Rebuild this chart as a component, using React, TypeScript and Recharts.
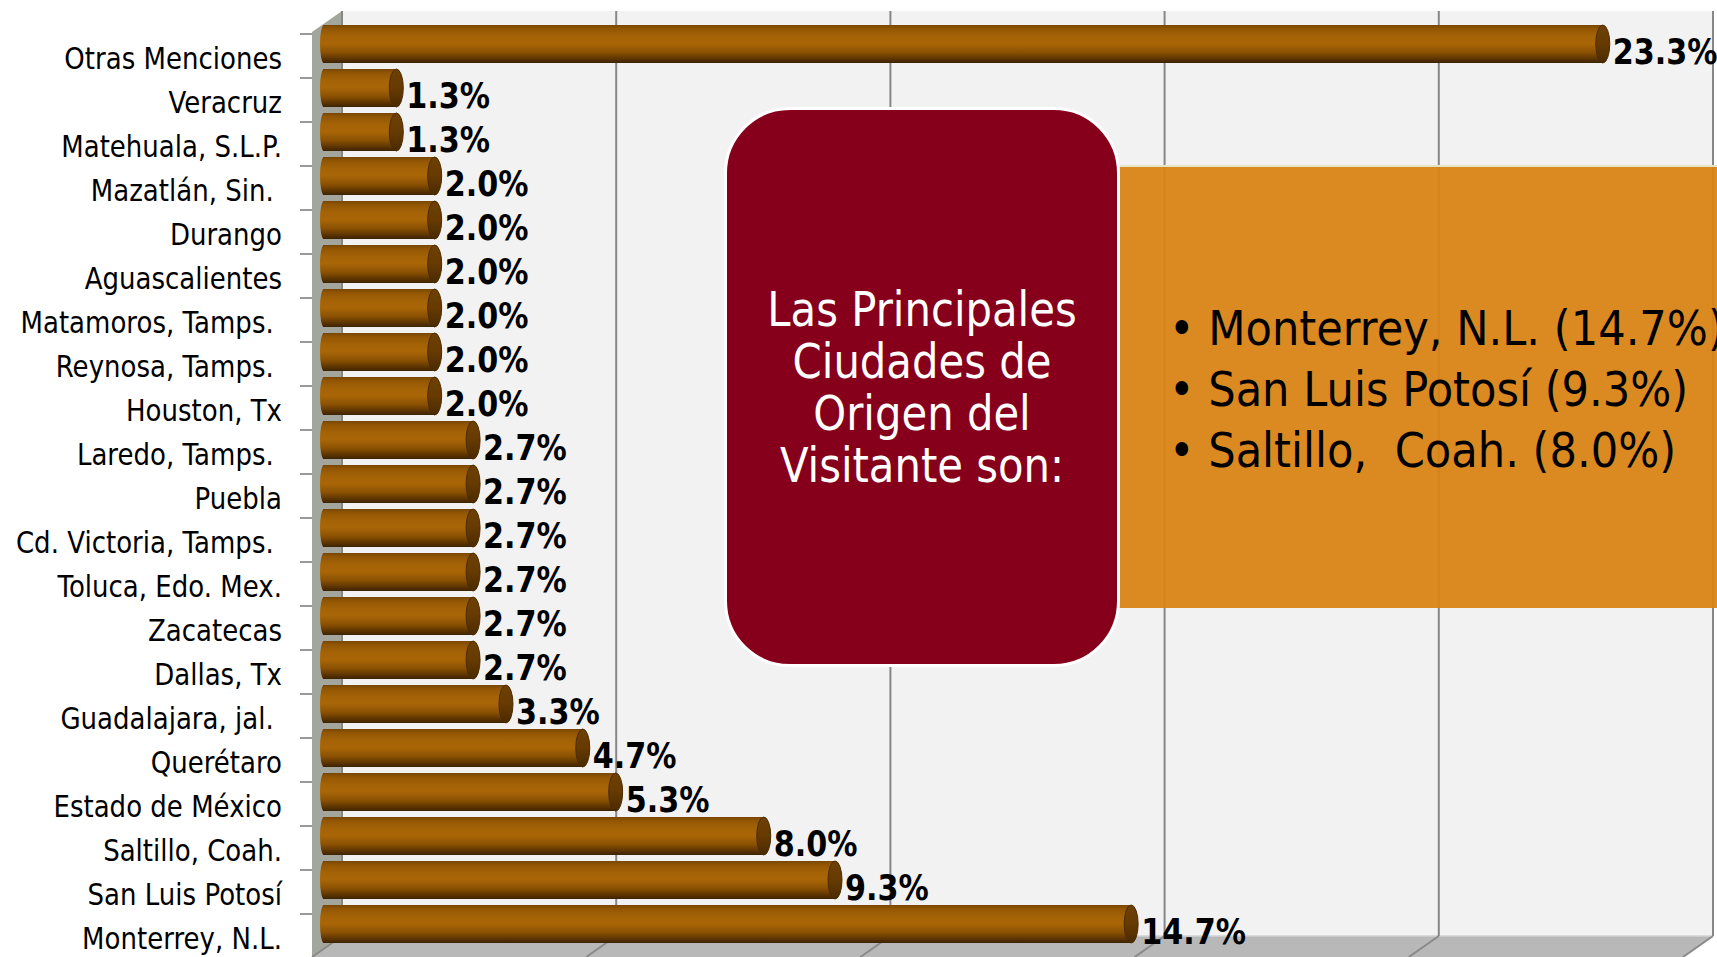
import React from "react";
import { BarChart, Bar, XAxis, YAxis, CartesianGrid, LabelList } from "recharts";

const cities = [
  "Otras Menciones",
  "Veracruz",
  "Matehuala, S.L.P.",
  "Mazatlán, Sin. ",
  "Durango",
  "Aguascalientes",
  "Matamoros, Tamps. ",
  "Reynosa, Tamps. ",
  "Houston, Tx",
  "Laredo, Tamps. ",
  "Puebla",
  "Cd. Victoria, Tamps. ",
  "Toluca, Edo. Mex.",
  "Zacatecas",
  "Dallas, Tx",
  "Guadalajara, jal. ",
  "Querétaro",
  "Estado de México",
  "Saltillo, Coah.",
  "San Luis Potosí",
  "Monterrey, N.L.",
];

const shares = [23.3, 1.3, 1.3, 2.0, 2.0, 2.0, 2.0, 2.0, 2.0, 2.7, 2.7, 2.7, 2.7, 2.7, 2.7, 3.3, 4.7, 5.3, 8.0, 9.3, 14.7];

const xTicks = [0, 5, 10, 15, 20, 25];
const xMax = 25;

const boxTitle = ["Las Principales", "Ciudades de", "Origen del", "Visitante son:"];
const boxItems = ["•\u00a0Monterrey, N.L. (14.7%)", "•\u00a0San Luis Potosí (9.3%)", "•\u00a0Saltillo,  Coah. (8.0%)"];

const data = cities.map((city, i) => ({ city, value: shares[i] }));

const FONT = "'DejaVu Sans', Verdana, sans-serif";

const DEPTH_X = 30;
const BACK_SHIFT = 10;

const gridCoords = (args: any) => {
  const { xAxis, offset, width } = args || {};
  if (xAxis && typeof xAxis.scale === "function") {
    return xTicks.map((t) => xAxis.scale(t));
  }
  const left = offset?.left ?? 0;
  const w = (width ?? 0) - left - (offset?.right ?? 0);
  return xTicks.map((t) => left + (t / xMax) * w);
};

const WallShape = (props: any) => {
  const { y1, y2, index, x, width } = props;
  if (index !== 0) return <g key={`w-${index}`} />;
  const backLeft = x + BACK_SHIFT;
  const backRight = x + width + BACK_SHIFT;
  const wallTop = y1 - 11;
  const wallBottom = y2 - 10;
  const floorFront = y2 + 11;
  return (
    <g key={`w-${index}`}>
      <rect x={backLeft} y={wallTop} width={backRight - backLeft} height={wallBottom - wallTop} fill="#f2f2f2" />
      <polygon
        points={`${backLeft},${wallTop} ${backLeft},${wallBottom} ${backLeft - DEPTH_X},${floorFront} ${backLeft - DEPTH_X},${wallTop + 21}`}
        fill="#a2a69c"
      />
      <polygon
        points={`${backLeft},${wallBottom} ${backRight},${wallBottom} ${backRight - DEPTH_X},${floorFront} ${backLeft - DEPTH_X},${floorFront}`}
        fill="#b8b8b8"
      />
      <line x1={backLeft} y1={wallBottom} x2={backRight} y2={wallBottom} stroke="#d2d2d2" strokeWidth={1.5} />
    </g>
  );
};

const GridLine = (props: any) => {
  const { x1, y1, y2, index } = props;
  const bx = x1 + BACK_SHIFT;
  const wallTop = y1 - 11;
  const wallBottom = y2 - 10;
  const floorFront = y2 + 11;
  return (
    <g key={`gl-${index}`}>
      <line x1={bx} y1={wallTop} x2={bx} y2={wallBottom} stroke="#878787" strokeWidth={2} />
      <line x1={bx} y1={wallBottom} x2={bx - DEPTH_X} y2={floorFront} stroke="#8a8a8a" strokeWidth={2} />
    </g>
  );
};

const CylinderBar = (props: any) => {
  const { x, y, width, height, index } = props;
  if (width == null || width <= 0) return null;
  const rx = 7;
  const ry = height / 2;
  const cy = y + ry;
  const startX = x - 12;
  const endX = x + width - rx;
  const gid = `cyl-${index}`;
  const cid = `cap-${index}`;
  return (
    <g>
      <defs>
        <linearGradient id={gid} x1="0" y1="0" x2="0" y2="1">
          <stop offset="0" stopColor="#784600" />
          <stop offset="0.1" stopColor="#925603" />
          <stop offset="0.3" stopColor="#a46306" />
          <stop offset="0.5" stopColor="#a86607" />
          <stop offset="0.72" stopColor="#8a5102" />
          <stop offset="0.9" stopColor="#5a3300" />
          <stop offset="1" stopColor="#3c2200" />
        </linearGradient>
        <linearGradient id={cid} x1="0" y1="0" x2="0" y2="1">
          <stop offset="0" stopColor="#6e4003" />
          <stop offset="0.5" stopColor="#663a01" />
          <stop offset="1" stopColor="#4a2a00" />
        </linearGradient>
      </defs>
      <ellipse cx={startX + 4} cy={cy} rx={4} ry={ry} fill={`url(#${gid})`} />
      <rect x={startX + 3} y={y} width={Math.max(endX - startX - 3, 0)} height={height} fill={`url(#${gid})`} />
      <ellipse cx={endX} cy={cy} rx={rx} ry={ry} fill={`url(#${cid})`} stroke="#4d2b00" strokeWidth={1} />
    </g>
  );
};

const ValueLabel = (props: any) => {
  const { x, y, width, height, value } = props;
  const tx = x + width + 3;
  const ty = y + height / 2 + 7;
  return (
    <text
      transform={`translate(${tx},${ty}) scale(0.84,1)`}
      x={0}
      y={0}
      dy="0.36em"
      fontFamily={FONT}
      fontWeight="bold"
      fontSize={36}
      fill="#000"
    >
      {`${Number(value).toFixed(1)}%`}
    </text>
  );
};

const CityTick = (props: any) => {
  const { x, y, payload, index, visibleTicksCount } = props;
  const tx = x - 42;
  const ty = y + 14;
  const sideX = x - 12;
  const isLast = index === (visibleTicksCount ?? cities.length) - 1;
  return (
    <g>
      <line x1={sideX - 12} y1={y - 10} x2={sideX} y2={y - 10} stroke="#9a9a9a" strokeWidth={2} />
      {isLast && <line x1={sideX - 12} y1={y + 34} x2={sideX} y2={y + 34} stroke="#9a9a9a" strokeWidth={2} />}
      <text
        transform={`translate(${tx},${ty}) scale(0.84,1)`}
        x={0}
        y={0}
        dy="0.36em"
        textAnchor="end"
        fontFamily={FONT}
        fontSize={31}
        fill="#000"
        style={{ whiteSpace: "pre" }}
      >
        {payload.value}
      </text>
    </g>
  );
};

export default function App() {
  return (
    <div
      style={{
        position: "absolute",
        left: 0,
        top: 0,
        width: 1717,
        height: 957,
        overflow: "hidden",
        background: "#ffffff",
      }}
    >
      <BarChart
        width={1717}
        height={957}
        data={data}
        layout="vertical"
        margin={{ top: 22, right: 14, bottom: 11, left: 0 }}
        barSize={38}
      >
        <CartesianGrid horizontal={false} vertical={WallShape} verticalCoordinatesGenerator={gridCoords} />
        <CartesianGrid horizontal={false} vertical={GridLine} verticalCoordinatesGenerator={gridCoords} />
        <XAxis
          type="number"
          domain={[0, xMax]}
          ticks={xTicks}
          tick={false}
          axisLine={false}
          tickLine={false}
          height={0}
        />
        <YAxis
          type="category"
          dataKey="city"
          width={332}
          interval={0}
          tickLine={false}
          axisLine={false}
          tick={CityTick}
        />
        <Bar dataKey="value" shape={CylinderBar} isAnimationActive={false}>
          <LabelList dataKey="value" content={ValueLabel} />
        </Bar>
      </BarChart>

      <div
        style={{
          position: "absolute",
          left: 1117,
          top: 165,
          width: 620,
          height: 443,
          background: "rgba(217,132,22,0.95)",
          borderTop: "2px solid #e4e6c6",
          boxSizing: "border-box",
        }}
      >
        {boxItems.map((t, i) => (
          <div
            key={i}
            style={{
              position: "absolute",
              left: 52,
              top: 131 + i * 61,
              height: 60,
              lineHeight: "60px",
              fontFamily: FONT,
              fontSize: 48,
              color: "#000",
              whiteSpace: "pre",
              transform: "scaleX(0.9)",
              transformOrigin: "left center",
            }}
          >
            {t}
          </div>
        ))}
      </div>

      <div
        style={{
          position: "absolute",
          left: 724,
          top: 107,
          width: 396,
          height: 560,
          background: "#87001b",
          border: "3px solid #ffffff",
          borderRadius: 66,
          boxSizing: "border-box",
        }}
      >
        {boxTitle.map((t, i) => (
          <div
            key={i}
            style={{
              position: "absolute",
              left: 0,
              width: 390,
              top: 173 + i * 52,
              height: 52,
              lineHeight: "52px",
              textAlign: "center",
              fontFamily: FONT,
              fontSize: 48,
              color: "#ffffff",
              whiteSpace: "pre",
              transform: "scaleX(0.87)",
              transformOrigin: "center center",
            }}
          >
            {t}
          </div>
        ))}
      </div>
    </div>
  );
}
